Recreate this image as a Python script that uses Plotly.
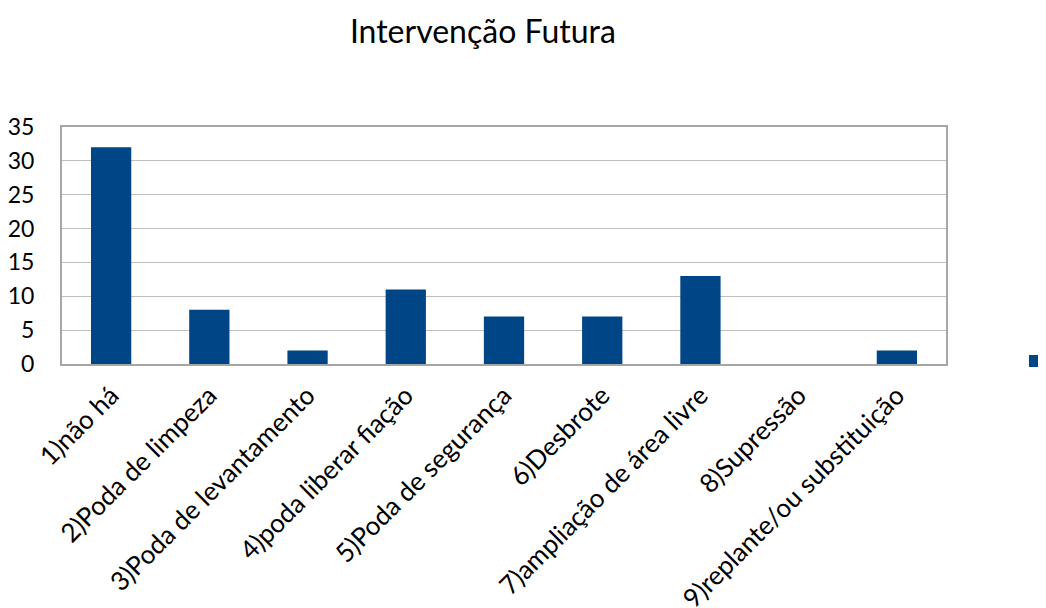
import plotly.graph_objects as go

categories = ["1)não há", "2)Poda de limpeza", "3)Poda de levantamento", "4)poda liberar fiação",
              "5)Poda de segurança", "6)Desbrote", "7)ampliação de área livre", "8)Supressão",
              "9)replante/ou substituição"]
values = [32, 8, 2, 11, 7, 7, 13, 0, 2]
y_ticks = [0, 5, 10, 15, 20, 25, 30, 35]

FONT = "Lato"
fig = go.Figure()
fig.add_trace(go.Bar(x=categories, y=values, marker=dict(color="#004586", line=dict(width=0)),
                     width=0.41, name=" ", showlegend=True))

fig.update_layout(
    width=1046, height=608,
    margin=dict(l=54, r=108, t=119, b=252, autoexpand=False),
    paper_bgcolor="white", plot_bgcolor="white",
    font=dict(family=FONT, color="#000000"),
    title=dict(text="Intervenção Futura", x=0.454, xanchor="center", y=0.9605, yanchor="middle",
               font=dict(size=32, family=FONT, color="#000000")),
    showlegend=True,
    legend=dict(x=1.078, xanchor="left", y=0.013, yanchor="middle", font=dict(size=12),
                bgcolor="rgba(0,0,0,0)"),
    bargap=0.59,
)
fig.update_xaxes(tickangle=-45, tickfont=dict(size=26, family=FONT, color="#000"),
                 showline=True, linecolor="#a6a6a6", linewidth=2, mirror=True,
                 showgrid=False, ticks="", automargin=False, ticklabelstandoff=4)
fig.update_yaxes(range=[0, 35], tickvals=y_ticks, tickfont=dict(size=23, family=FONT, color="#000"),
                 showline=True, linecolor="#a6a6a6", linewidth=2, mirror=True,
                 showgrid=True, gridcolor="#bfbfbf", gridwidth=1, ticks="",
                 ticklabelstandoff=21, zeroline=False, automargin=False)
fig.write_html("out.html")
